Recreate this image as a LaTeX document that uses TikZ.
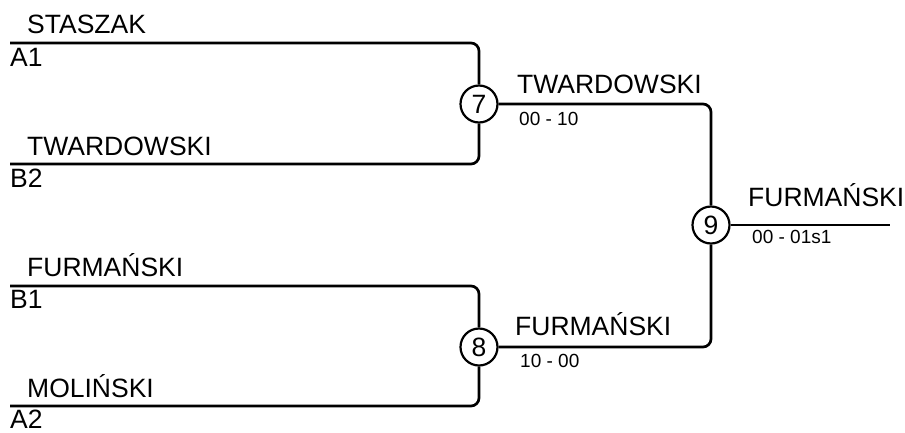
\documentclass[tikz,border=0pt]{standalone}
\usepackage{fontspec}
\setmainfont{Liberation Sans}

\tikzset{
  player/.style={anchor=base west, inner sep=0pt, font=\fontsize{26.5}{30}\selectfont},
  score/.style={anchor=base west, inner sep=0pt, font=\fontsize{19}{22}\selectfont},
  match/.style={circle, draw, line width=2.2pt, minimum size=37pt, inner sep=0pt, fill=white, font=\fontsize{26.5}{30}\selectfont},
  bracket/.style={line width=2.7pt, rounded corners=8pt}
}

\begin{document}
\begin{tikzpicture}[x=1pt,y=-1pt]
\useasboundingbox (0,0) rectangle (905,432);
% seeds
\coordinate (a1) at (10,43);
\coordinate (b2) at (10,164);
\coordinate (b1) at (10,286);
\coordinate (a2) at (10,406);
\coordinate (final) at (890,225);
% matches
\node[match] (m7) at (479,104) {7};
\node[match] (m8) at (479,347) {8};
\node[match] (m9) at (711,225) {9};
% bracket lines
\draw[bracket] (a1) -| (m7.north);
\draw[bracket] (b2) -| (m7.south);
\draw[bracket] (b1) -| (m8.north);
\draw[bracket] (a2) -| (m8.south);
\draw[bracket] (m7.east) -| (m9.north);
\draw[bracket] (m8.east) -| (m9.south);
\draw[bracket] (m9.east) -- (final);
% names
\node[player] (p1) at (27,33) {STASZAK};
\node[player] (s1) at (10,66) {A1};
\node[player] (p2) at (27,155) {TWARDOWSKI};
\node[player] (s2) at (10,187) {B2};
\node[player] (p3) at (27,276) {FURMAŃSKI};
\node[player] (s3) at (10,308) {B1};
\node[player] (p4) at (27,397) {MOLIŃSKI};
\node[player] (s4) at (10,428) {A2};
% winners and scores
\node[player] (w7) at (517,93) {TWARDOWSKI};
\node[score] (r7) at (519,125) {00 - 10};
\node[player] (w8) at (515,335) {FURMAŃSKI};
\node[score] (r8) at (520,367) {10 - 00};
\node[player] (w9) at (748,206) {FURMAŃSKI};
\node[score] (r9) at (752,243) {00 - 01s1};
\end{tikzpicture}
\end{document}
